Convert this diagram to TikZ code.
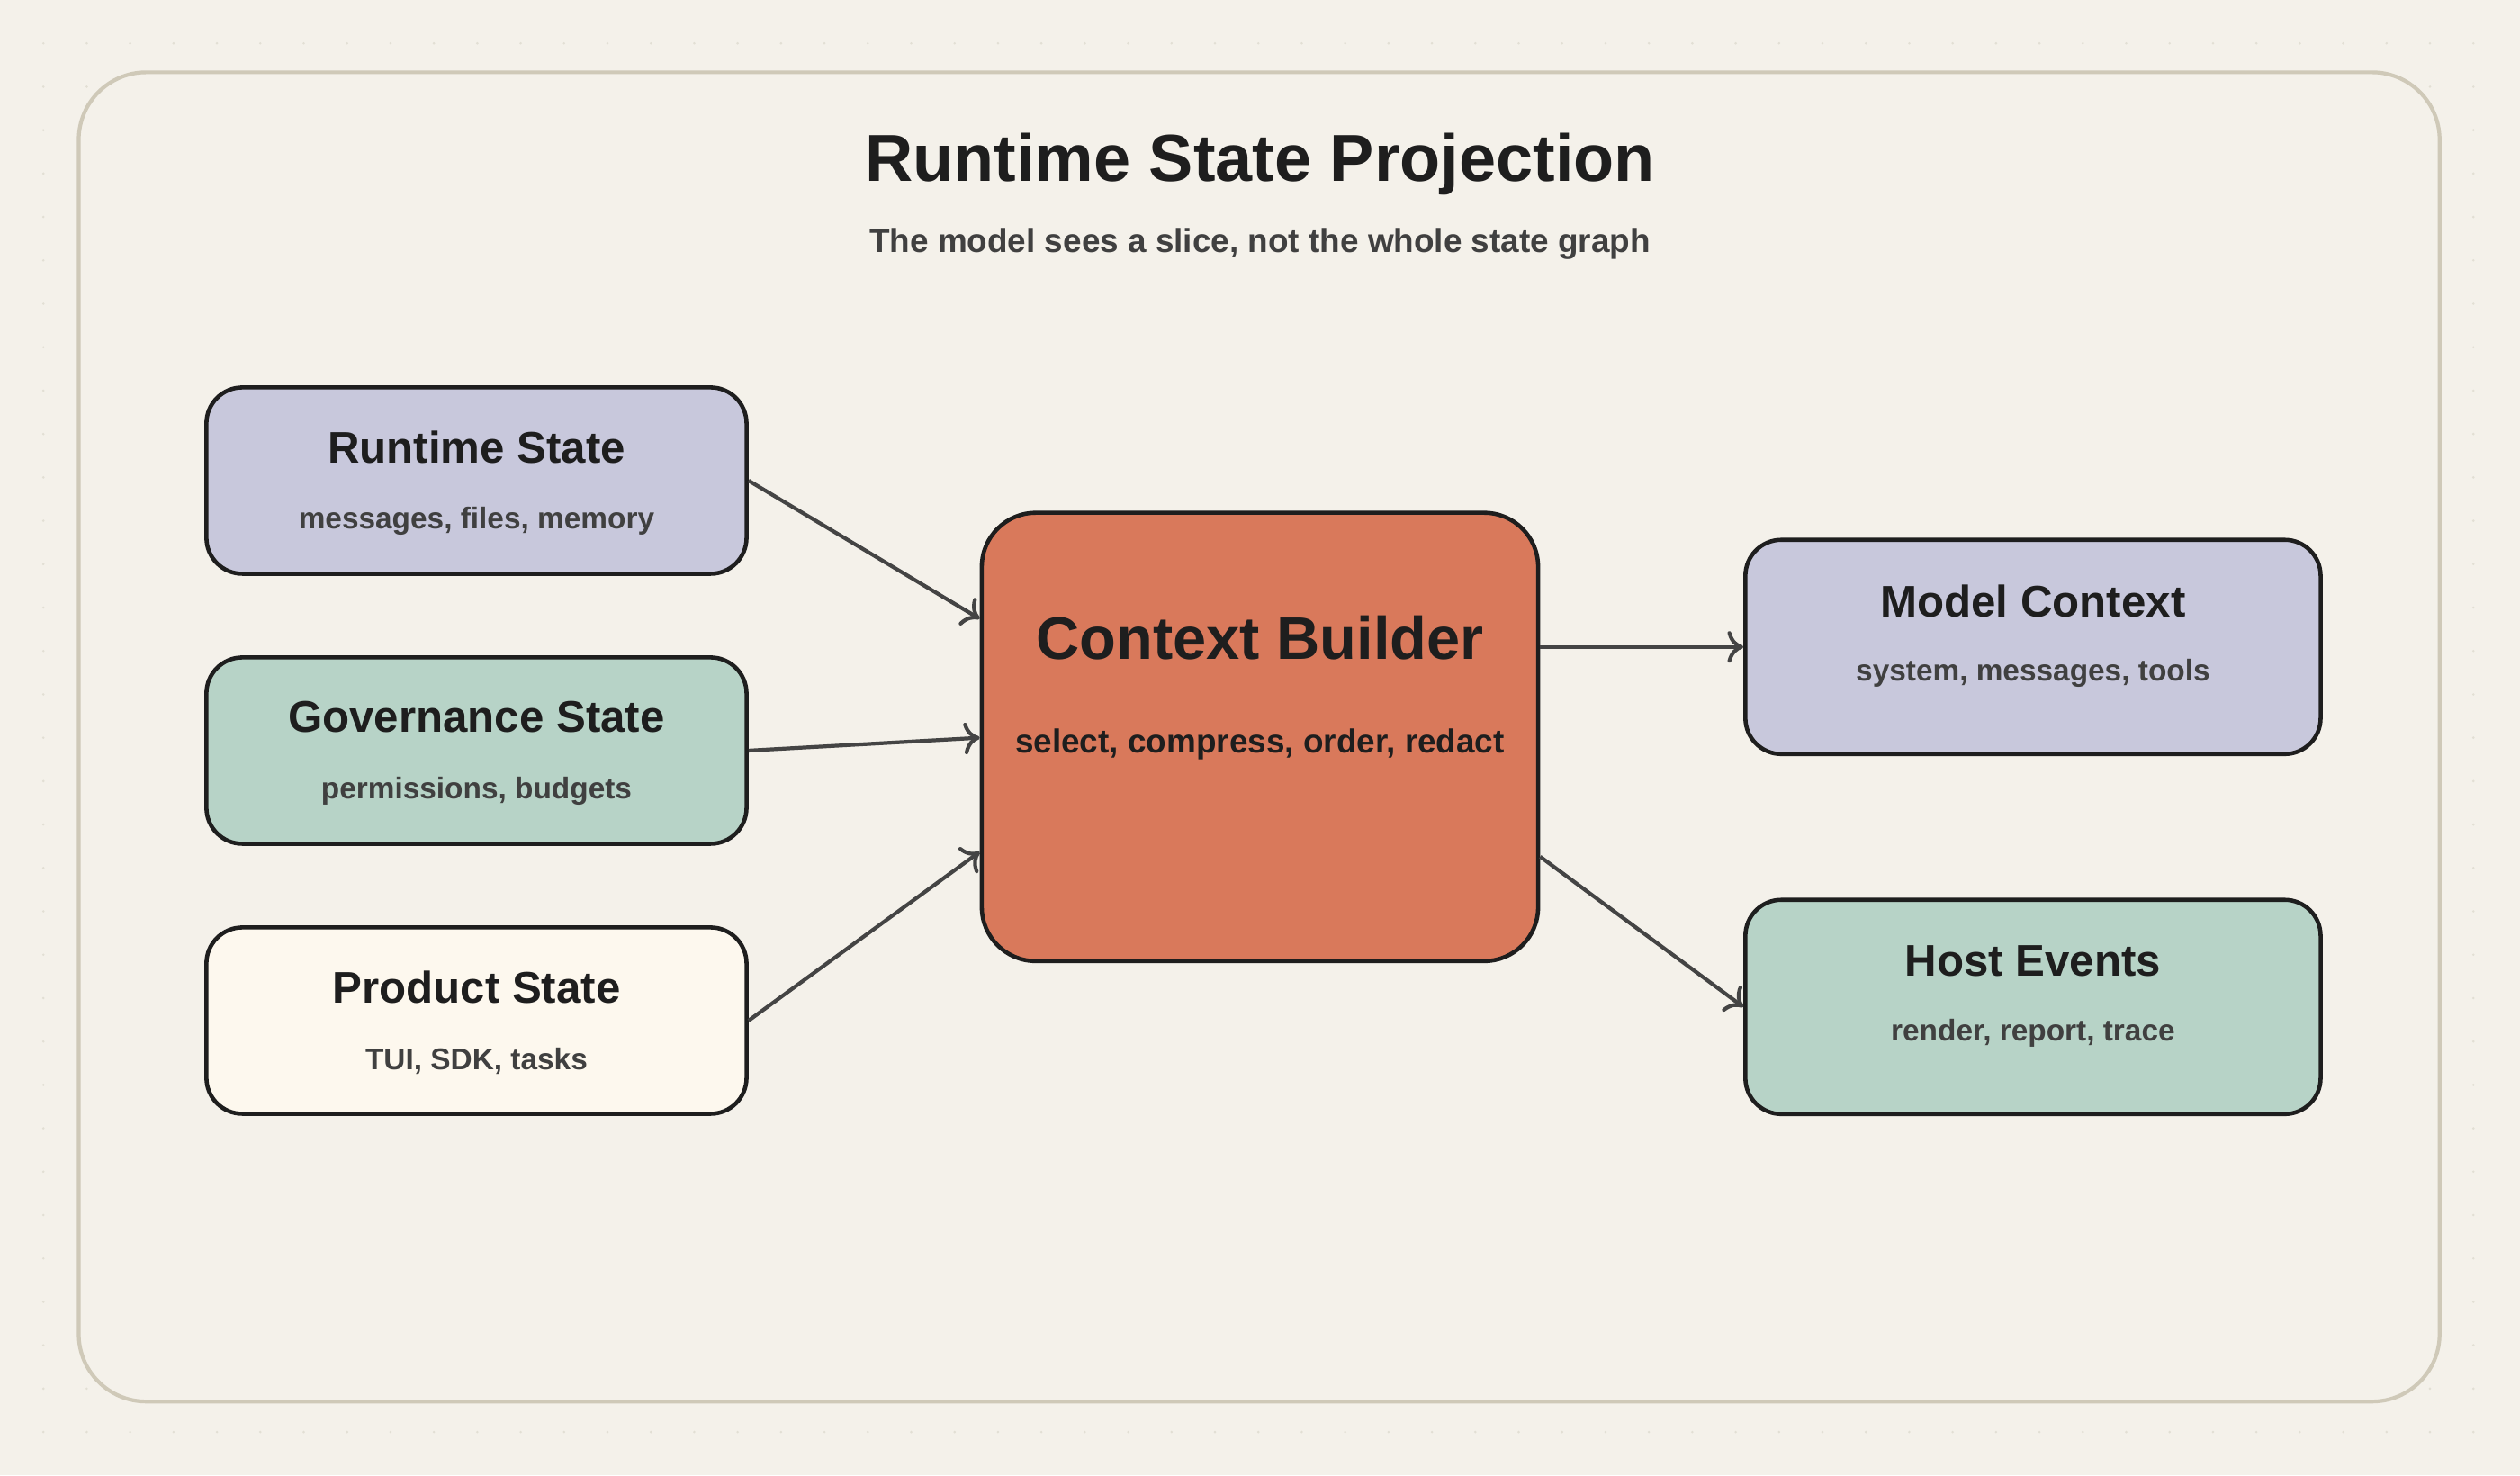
\documentclass[tikz,border=0pt]{standalone}
\usepackage{fontspec}
\setmainfont{Liberation Sans}
\usetikzlibrary{arrows.meta}
\definecolor{paper}{HTML}{F4F1EA}
\definecolor{frameline}{HTML}{CFC9B8}
\definecolor{lavender}{HTML}{C8C8DC}
\definecolor{sage}{HTML}{B7D3C7}
\definecolor{cream}{HTML}{FDF8EE}
\definecolor{terra}{HTML}{D9795B}
\definecolor{ink}{HTML}{1E1E1E}
\definecolor{wire}{HTML}{444444}
\tikzset{
  box/.style={draw=ink, line width=1.3pt, rounded corners=0.4cm, minimum width=6cm, minimum height=2.07cm},
  outbox/.style={box, minimum width=6.39cm, minimum height=2.38cm},
  head/.style={font=\bfseries\fontsize{14}{16}\selectfont, text=ink},
  sub/.style={font=\bfseries\fontsize{9.5}{11}\selectfont, text=black!75},
  flow/.style={draw=wire, line width=1.2pt, -{To[length=5pt,width=10pt,line width=1.2pt]}}
}
\begin{document}
\begin{tikzpicture}[x=0.017857cm, y=-0.017857cm]
        \fill[paper] (0,0) rectangle (1568,918);
        \useasboundingbox (0,0) rectangle (1568,918);
        % dots
        \foreach \i in {1,...,57} \foreach \j in {1,...,33}
          \fill[frameline!60] (\i*27,\j*27) circle (0.8);
        \draw[frameline, line width=1.2pt, fill=paper, rounded corners=0.75cm] (49,45) rectangle (1518,872);
        % title
        \node[font=\bfseries\fontsize{21}{24}\selectfont, text=ink] (title) at (784,102) {Runtime State Projection};
        \node[font=\bfseries\fontsize{10.5}{12}\selectfont, text=black!75] (subtitle) at (784,152) {The model sees a slice, not the whole state graph};

        % inputs
        \node[box, fill=lavender] (rs) at (296.5,299) {};
        \node[head] at (296.5,278) {Runtime State};
        \node[sub] at (296.5,324) {messages, files, memory};
        \node[box, fill=sage] (gs) at (296.5,467) {};
        \node[head] at (296.5,446) {Governance State};
        \node[sub] at (296.5,492) {permissions, budgets};
        \node[box, fill=cream] (ps) at (296.5,635) {};
        \node[head] at (296.5,614) {Product State};
        \node[sub] at (296.5,660) {TUI, SDK, tasks};

        % builder
        \node[box, fill=terra, rounded corners=0.6cm, minimum width=6.18cm, minimum height=4.98cm] (cb) at (784,458.5) {};
        \node[font=\bfseries\fontsize{19}{22}\selectfont, text=ink] at (784,397) {Context Builder};
        \node[font=\bfseries\fontsize{10.5}{12}\selectfont, text=ink] at (784,463) {select, compress, order, redact};

        % outputs
        \node[outbox, fill=lavender] (mc) at (1265,402.5) {};
        \node[head] at (1265,374) {Model Context};
        \node[sub] at (1265,419) {system, messages, tools};
        \node[outbox, fill=sage] (he) at (1265,626.5) {};
        \node[head] at (1265,598) {Host Events};
        \node[sub] at (1265,643) {render, report, trace};

        % arrows
        \draw[flow] (rs.east) -- (cb.west |- 0,385);
        \draw[flow] (gs.east) -- (cb.west |- 0,459);
        \draw[flow] (ps.east) -- (cb.west |- 0,530);
        \draw[flow] (cb.east |- mc) -- (mc.west);
        \draw[flow] (cb.east |- 0,533) -- (he.west);
\end{tikzpicture}
\end{document}
